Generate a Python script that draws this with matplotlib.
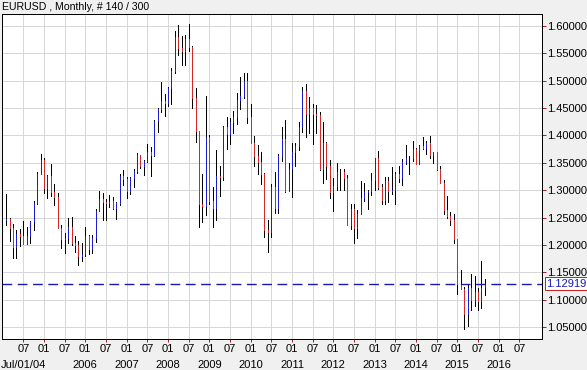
import matplotlib
matplotlib.use("Agg")
import matplotlib.pyplot as plt
import matplotlib.transforms as mtransforms
import pandas as pd
import numpy as np

# ---------------- data ----------------
title_text = "EURUSD , Monthly, # 140 / 300"
first_month = "2004-02"

opens = [
    # 2004 (Feb-Dec)
    1.2460, 1.2480, 1.2310, 1.1970, 1.2200, 1.2170, 1.2020, 1.2170, 1.2410, 1.2760, 1.3300,
    # 2005
    1.3560, 1.3040, 1.3260, 1.2960, 1.2870, 1.2300, 1.2100, 1.2120, 1.2330, 1.2030, 1.1990, 1.1790,
    # 2006
    1.1840, 1.2160, 1.1920, 1.2120, 1.2620, 1.2830, 1.2790, 1.2770, 1.2810, 1.2680, 1.2760, 1.3250,
    # 2007
    1.3200, 1.2980, 1.3230, 1.3350, 1.3650, 1.3450, 1.3540, 1.3690, 1.3640, 1.4260, 1.4480, 1.4630,
    # 2008
    1.4590, 1.4860, 1.5180, 1.5790, 1.5600, 1.5550, 1.5760, 1.5610, 1.4680, 1.4090, 1.2740, 1.2710,
    # 2009
    1.3970, 1.2800, 1.2670, 1.3250, 1.3240, 1.4150, 1.4030, 1.4250, 1.4330, 1.4640, 1.4720, 1.5000,
    # 2010
    1.4330, 1.3860, 1.3630, 1.3510, 1.3290, 1.2270, 1.2230, 1.3050, 1.2680, 1.3630, 1.3940, 1.2990,
    # 2011
    1.3380, 1.3700, 1.3800, 1.4160, 1.4810, 1.4400, 1.4500, 1.4390, 1.4370, 1.3390, 1.3860, 1.3450,
    # 2012
    1.2960, 1.3080, 1.3340, 1.3340, 1.3230, 1.2370, 1.2660, 1.2300, 1.2570, 1.2860, 1.2960, 1.2990,
    # 2013
    1.3190, 1.3580, 1.3060, 1.2820, 1.3170, 1.2990, 1.3010, 1.3300, 1.3220, 1.3520, 1.3580, 1.3590,
    # 2014
    1.3760, 1.3485, 1.3800, 1.3770, 1.3870, 1.3635, 1.3690, 1.3390, 1.3130, 1.2630, 1.2530, 1.2450,
    # 2015 (Jan-Sep)
    1.2100, 1.1290, 1.1200, 1.0731, 1.1221, 1.0986, 1.1146, 1.0984, 1.1211,
]
highs = [
    1.2930, 1.2495, 1.2390, 1.2270, 1.2290, 1.2440, 1.2330, 1.2430, 1.2810, 1.3330, 1.3667,
    1.3580, 1.3280, 1.3480, 1.3120, 1.2950, 1.2360, 1.2210, 1.2490, 1.2510, 1.2160, 1.2070, 1.2040,
    1.2320, 1.2190, 1.2190, 1.2650, 1.2980, 1.2950, 1.2840, 1.2920, 1.2880, 1.2780, 1.3290, 1.3370,
    1.3240, 1.3240, 1.3390, 1.3680, 1.3650, 1.3550, 1.3850, 1.3790, 1.4280, 1.4500, 1.4970, 1.4760,
    1.4880, 1.5240, 1.5900, 1.6020, 1.5820, 1.5840, 1.6040, 1.5630, 1.4870, 1.4090, 1.3300, 1.4720,
    1.4000, 1.3060, 1.3740, 1.3440, 1.4170, 1.4340, 1.4310, 1.4450, 1.4780, 1.5060, 1.5144, 1.5145,
    1.4580, 1.3990, 1.3820, 1.3690, 1.3320, 1.2450, 1.3110, 1.3330, 1.3670, 1.4160, 1.4280, 1.3500,
    1.3860, 1.3860, 1.4250, 1.4880, 1.4940, 1.4700, 1.4580, 1.4550, 1.4420, 1.4250, 1.3880, 1.3560,
    1.3230, 1.3490, 1.3390, 1.3380, 1.3280, 1.2740, 1.2750, 1.2640, 1.3170, 1.3140, 1.3010, 1.3310,
    1.3590, 1.3710, 1.3110, 1.3240, 1.3240, 1.3420, 1.3340, 1.3450, 1.3570, 1.3830, 1.3620, 1.3900,
    1.3775, 1.3825, 1.3965, 1.3905, 1.3993, 1.3700, 1.3700, 1.3445, 1.3180, 1.2890, 1.2600, 1.2570,
    1.2100, 1.1535, 1.1240, 1.1268, 1.1467, 1.1436, 1.1216, 1.1714, 1.1385,
]
lows = [
    1.2360, 1.2080, 1.1760, 1.1760, 1.1980, 1.2010, 1.2010, 1.2030, 1.2280, 1.2750, 1.3290,
    1.2950, 1.2860, 1.2890, 1.2730, 1.2300, 1.1950, 1.1860, 1.2040, 1.1990, 1.1870, 1.1640, 1.1700,
    1.1800, 1.1830, 1.1860, 1.2060, 1.2620, 1.2460, 1.2450, 1.2690, 1.2650, 1.2480, 1.2730, 1.3090,
    1.2860, 1.2930, 1.3050, 1.3320, 1.3410, 1.3270, 1.3520, 1.3260, 1.3620, 1.4060, 1.4430, 1.4350,
    1.4530, 1.4570, 1.5150, 1.5470, 1.5290, 1.5280, 1.5550, 1.4500, 1.3880, 1.2330, 1.2420, 1.2550,
    1.2750, 1.2330, 1.2460, 1.2890, 1.3180, 1.3750, 1.3850, 1.4040, 1.4210, 1.4480, 1.4680, 1.4220,
    1.3860, 1.3440, 1.3290, 1.3110, 1.2140, 1.1876, 1.2150, 1.2590, 1.2590, 1.3540, 1.2970, 1.3000,
    1.2870, 1.3440, 1.3740, 1.4070, 1.3970, 1.4040, 1.3840, 1.4050, 1.3360, 1.3140, 1.3210, 1.2860,
    1.2620, 1.3010, 1.3000, 1.3000, 1.2360, 1.2290, 1.2040, 1.2130, 1.2560, 1.2800, 1.2660, 1.2920,
    1.3000, 1.3020, 1.2750, 1.2750, 1.2790, 1.2930, 1.2750, 1.3150, 1.3100, 1.3480, 1.3300, 1.3540,
    1.3480, 1.3475, 1.3750, 1.3670, 1.3590, 1.3500, 1.3370, 1.3130, 1.2570, 1.2500, 1.2360, 1.2030,
    1.1100, 1.1190, 1.0462, 1.0520, 1.0819, 1.0889, 1.0809, 1.0848, 1.1087,
]
closes = [
    1.2470, 1.2310, 1.1970, 1.2200, 1.2170, 1.2020, 1.2170, 1.2410, 1.2760, 1.3300, 1.3560,
    1.3040, 1.3260, 1.2960, 1.2870, 1.2300, 1.2100, 1.2120, 1.2330, 1.2030, 1.1990, 1.1790, 1.1840,
    1.2160, 1.1930, 1.2120, 1.2620, 1.2830, 1.2790, 1.2770, 1.2810, 1.2680, 1.2760, 1.3250, 1.3200,
    1.2980, 1.3230, 1.3350, 1.3650, 1.3450, 1.3540, 1.3690, 1.3640, 1.4260, 1.4480, 1.4630, 1.4590,
    1.4860, 1.5180, 1.5790, 1.5600, 1.5550, 1.5760, 1.5610, 1.4680, 1.4090, 1.2740, 1.2710, 1.3970,
    1.2800, 1.2670, 1.3250, 1.3240, 1.4150, 1.4030, 1.4250, 1.4330, 1.4640, 1.4720, 1.5000, 1.4330,
    1.3860, 1.3630, 1.3510, 1.3290, 1.2270, 1.2230, 1.3050, 1.2680, 1.3630, 1.3940, 1.2990, 1.3380,
    1.3700, 1.3800, 1.4160, 1.4810, 1.4400, 1.4500, 1.4390, 1.4370, 1.3390, 1.3860, 1.3450, 1.2960,
    1.3080, 1.3340, 1.3340, 1.3230, 1.2370, 1.2660, 1.2300, 1.2570, 1.2860, 1.2960, 1.2990, 1.3190,
    1.3580, 1.3060, 1.2820, 1.3170, 1.2990, 1.3010, 1.3300, 1.3220, 1.3520, 1.3580, 1.3590, 1.3760,
    1.3485, 1.3800, 1.3770, 1.3870, 1.3635, 1.3690, 1.3390, 1.3130, 1.2630, 1.2530, 1.2450, 1.2100,
    1.1290, 1.1200, 1.0731, 1.1221, 1.0986, 1.1146, 1.0984, 1.1211, 1.12919,
]

price_ticks = [1.05, 1.10, 1.15, 1.20, 1.25, 1.30, 1.35, 1.40, 1.45, 1.50, 1.55, 1.60]
current_price = 1.12919

tick_months = ["2004-07", "2005-01", "2005-07", "2006-01", "2006-07", "2007-01", "2007-07",
               "2008-01", "2008-07", "2009-01", "2009-07", "2010-01", "2010-07", "2011-01",
               "2011-07", "2012-01", "2012-07", "2013-01", "2013-07", "2014-01", "2014-07",
               "2015-01", "2015-07", "2016-01", "2016-07"]
tick_labels = ["07", "01", "07", "01", "07", "01", "07", "01", "07", "01", "07", "01", "07",
               "01", "07", "01", "07", "01", "07", "01", "07", "01", "07", "01", "07"]
year_months = ["2004-07", "2006-01", "2007-01", "2008-01", "2009-01", "2010-01", "2011-01",
               "2012-01", "2013-01", "2014-01", "2015-01", "2016-01"]
year_labels = ["Jul/01/04", "2006", "2007", "2008", "2009", "2010", "2011",
               "2012", "2013", "2014", "2015", "2016"]

# ---------------- figure ----------------
FONT = "Liberation Sans"
W, H = 587, 370
fig = plt.figure(figsize=(W / 100, H / 100), dpi=100, facecolor="#f0f0f0")
ax = fig.add_axes([1.5 / W, 1 - 339 / H, 540.2 / W, 325 / H])
ax.set_facecolor("white")

base = pd.Period(first_month, freq="M")
months = pd.period_range(first_month, periods=len(closes), freq="M")
x = np.array([(m - base).n for m in months])
o = np.array(opens); h = np.array(highs); l = np.array(lows); c = np.array(closes)

px = 0.72  # one pixel in points
ax.vlines(x, l, h, colors="black", linewidth=px, antialiased=False, zorder=3)
up = c > o
dn = c < o
ax.vlines(x[up], o[up], c[up], colors="#1c1cd0", linewidth=px, antialiased=False, zorder=4)
ax.vlines(x[dn], c[dn], o[dn], colors="#d42828", linewidth=px, antialiased=False, zorder=4)

ax.axhline(current_price, color="#1a1aa8", linewidth=1.0, linestyle=(0, (7, 4)), zorder=5)

ax.set_xlim(-1.33, 155.5)
ax.set_ylim(1.0281, 1.6219)

tick_x = [(pd.Period(m, freq="M") - base).n for m in tick_months]
ax.set_xticks(tick_x)
ax.set_xticklabels(tick_labels, fontfamily=FONT, fontsize=8)
ax.set_yticks(price_ticks)
ax.set_yticklabels([f"{p:.5f}" for p in price_ticks], fontfamily=FONT, fontsize=8)
ax.yaxis.tick_right()
ax.tick_params(axis="y", direction="out", length=3, width=px, color="#b02030", pad=1)
ax.tick_params(axis="x", direction="out", length=2.2, width=px, color="#b02030", pad=1.6)

# year row under the month ticks
year_tr = mtransforms.offset_copy(ax.get_xaxis_transform(), fig=fig, x=0, y=-26.5, units="dots")
for ym, lab in zip(year_months, year_labels):
    xx = (pd.Period(ym, freq="M") - base).n
    ax.text(xx, 0, lab, transform=year_tr, ha="center", va="center",
            fontfamily=FONT, fontsize=8, color="black", clip_on=False)

ax.grid(True, color="#d6d6d6", linewidth=px, zorder=0)
ax.set_axisbelow(True)
for s in ax.spines.values():
    s.set_color("black")
    s.set_linewidth(px)

# current price label box
ax.text(1.0 + 4.3 / 540.2, current_price, f"{current_price:.5f}",
        transform=ax.get_yaxis_transform(), ha="left", va="center",
        fontfamily=FONT, fontsize=8, color="#1a1ab4", zorder=10, clip_on=False,
        bbox=dict(boxstyle="square,pad=0.12", facecolor="white",
                  edgecolor="#d02020", linewidth=px))

fig.text(2 / W, 1 - 7 / H, title_text, ha="left", va="center",
         fontfamily=FONT, fontsize=7.6, color="black")

fig.savefig("out.png", dpi=100, facecolor=fig.get_facecolor())
